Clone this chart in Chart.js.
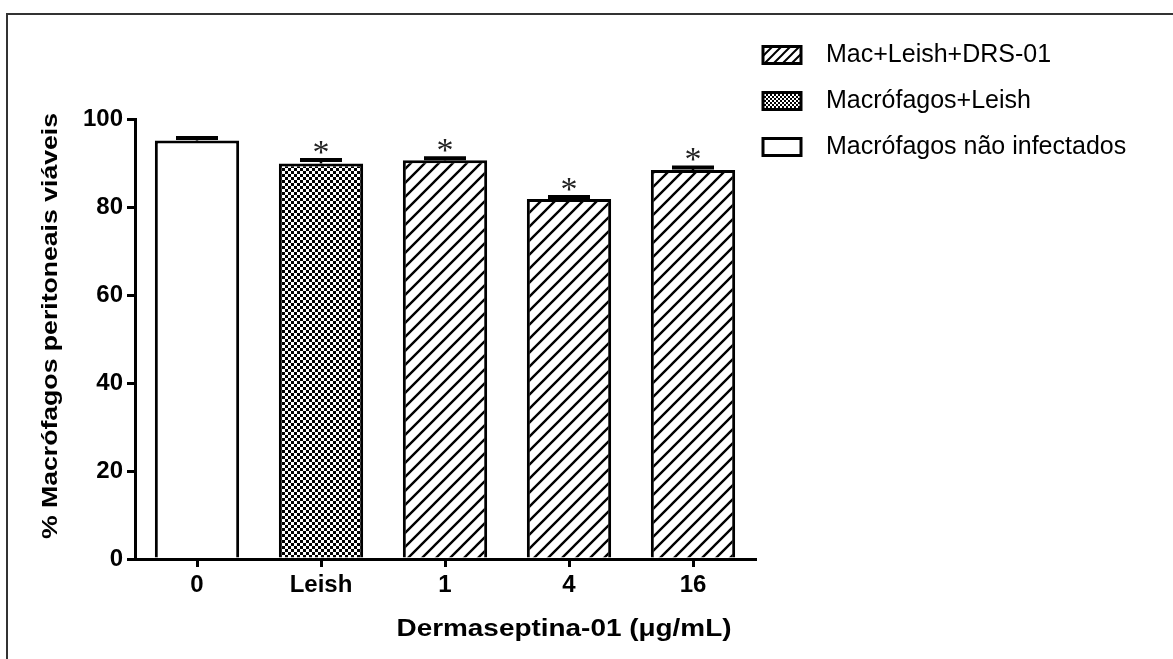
<!DOCTYPE html>
<html>
<head>
<meta charset="utf-8">
<script src="https://cdn.jsdelivr.net/npm/chart.js@4/dist/chart.umd.min.js"></script>
<style>
  html, body { margin: 0; padding: 0; background: #fff; }
  #wrap { width: 1173px; height: 659px; position: relative; }
</style>
</head>
<body>
<div id="wrap"><canvas id="chart"></canvas></div>
<script>
// Data
const categories = ['0', 'Leish', '1', '4', '16'];
const means = [95.1, 89.9, 90.6, 81.8, 88.4];
const sems = [0.6, 0.8, 0.5, 0.5, 0.6];
const groups = ['none', 'leish', 'drs', 'drs', 'drs'];
const significant = [false, true, true, true, true];
const legendGroups = ['drs', 'leish', 'none'];
const legendLabels = ['Mac+Leish+DRS-01', 'Macrófagos+Leish', 'Macrófagos não infectados'];
const xTitle = 'Dermaseptina-01 (\u03bcg/mL)';
const yTitle = '% Macrófagos peritoneais viáveis';

// Fill patterns
function hatchPattern(size, lw) {
    const c = document.createElement('canvas');
    c.width = size; c.height = size;
    const g = c.getContext('2d');
    g.fillStyle = '#fff';
    g.fillRect(0, 0, size, size);
    g.strokeStyle = '#000';
    g.lineWidth = lw;
    g.beginPath();
    g.moveTo(-2, size + 2); g.lineTo(size + 2, -2);
    g.moveTo(-2, 2); g.lineTo(2, -2);
    g.moveTo(size - 2, size + 2); g.lineTo(size + 2, size - 2);
    g.stroke();
    return g.createPattern(c, 'repeat');
}
function checkerPattern(cell) {
    const c = document.createElement('canvas');
    c.width = cell * 2; c.height = cell * 2;
    const g = c.getContext('2d');
    g.fillStyle = '#fff';
    g.fillRect(0, 0, cell * 2, cell * 2);
    g.fillStyle = '#000';
    g.fillRect(0, 0, cell, cell);
    g.fillRect(cell, cell, cell, cell);
    return g.createPattern(c, 'repeat');
}
const fills = { none: '#fff', leish: checkerPattern(3), drs: hatchPattern(14, 2.4) };
const legendFills = { none: '#fff', leish: checkerPattern(2), drs: hatchPattern(9, 2) };

const FONT = '"Liberation Sans", Arial, sans-serif';

// Outer frame of the figure
const framePlugin = {
    id: 'frame',
    beforeDraw(chart) {
        const ctx = chart.ctx;
        ctx.save();
        ctx.strokeStyle = '#333';
        ctx.lineWidth = 2;
        ctx.beginPath();
        ctx.moveTo(7, chart.height);
        ctx.lineTo(7, 14);
        ctx.lineTo(chart.width, 14);
        ctx.stroke();
        ctx.restore();
    }
};

// Error bars (upper only) and significance stars
const errorPlugin = {
    id: 'errors',
    afterDatasetsDraw(chart) {
        const ctx = chart.ctx;
        const y = chart.scales.y;
        const meta = chart.getDatasetMeta(0);
        ctx.save();
        ctx.strokeStyle = '#000';
        ctx.fillStyle = '#222';
        meta.data.forEach((bar, i) => {
            const top = y.getPixelForValue(means[i] + sems[i]);
            ctx.lineWidth = 2.5;
            ctx.beginPath();
            ctx.moveTo(bar.x, bar.y);
            ctx.lineTo(bar.x, top);
            ctx.stroke();
            ctx.lineWidth = 4;
            ctx.beginPath();
            ctx.moveTo(bar.x - 21, top);
            ctx.lineTo(bar.x + 21, top);
            ctx.stroke();
            if (significant[i]) {
                ctx.font = '34px "Liberation Serif", "Times New Roman", serif';
                ctx.textAlign = 'center';
                ctx.textBaseline = 'alphabetic';
                ctx.fillText('*', bar.x, top + 3);
            }
        });
        ctx.restore();
    }
};

// Axis titles (the original is stretched horizontally) and legend
const textPlugin = {
    id: 'texts',
    afterDraw(chart) {
        const ctx = chart.ctx;
        ctx.save();
        ctx.fillStyle = '#000';
        ctx.textAlign = 'center';
        ctx.textBaseline = 'middle';

        ctx.font = 'bold 24px ' + FONT;
        let w = ctx.measureText(xTitle).width;
        ctx.save();
        ctx.translate(564, 629);
        ctx.scale(335 / w, 1);
        ctx.fillText(xTitle, 0, 0);
        ctx.restore();

        ctx.font = 'bold 22px ' + FONT;
        w = ctx.measureText(yTitle).width;
        ctx.save();
        ctx.translate(51, 326);
        ctx.rotate(-Math.PI / 2);
        ctx.scale(426 / w, 1);
        ctx.fillText(yTitle, 0, 0);
        ctx.restore();

        // legend
        const rows = [55, 101, 147];
        ctx.textAlign = 'left';
        ctx.font = '25px ' + FONT;
        legendGroups.forEach((g, i) => {
            const cy = rows[i];
            ctx.fillStyle = legendFills[g];
            ctx.fillRect(763, cy - 8.5, 38, 17);
            ctx.strokeStyle = '#000';
            ctx.lineWidth = 3;
            ctx.strokeRect(763, cy - 8.5, 38, 17);
            ctx.fillStyle = '#000';
            ctx.fillText(legendLabels[i], 826, cy);
        });
        ctx.restore();
    }
};

new Chart(document.getElementById('chart'), {
    type: 'bar',
    data: {
        labels: categories,
        datasets: [{
            data: means,
            backgroundColor: groups.map(g => fills[g]),
            borderColor: '#000',
            borderWidth: 3,
            borderSkipped: 'start',
            barPercentage: 0.68,
            categoryPercentage: 1
        }]
    },
    options: {
        responsive: true,
        maintainAspectRatio: false,
        animation: false,
        layout: { padding: { left: 0, top: 119, right: 418, bottom: 0 } },
        plugins: { legend: { display: false }, tooltip: { enabled: false } },
        scales: {
            x: {
                afterFit: s => { s.height = 100; },
                grid: { offset: false, drawOnChartArea: false, drawTicks: true, tickLength: 8, color: '#000', lineWidth: 3 },
                border: { display: true, color: '#000', width: 3 },
                ticks: { color: '#000', padding: 4, font: { family: FONT, size: 24, weight: 'bold' } }
            },
            y: {
                min: 0,
                max: 100,
                afterFit: s => { s.width = 135; },
                grid: { drawOnChartArea: false, drawTicks: true, tickLength: 8, color: '#000', lineWidth: 3 },
                border: { display: true, color: '#000', width: 3 },
                ticks: { stepSize: 20, color: '#000', padding: 4, font: { family: FONT, size: 24, weight: 'bold' } }
            }
        }
    },
    plugins: [framePlugin, errorPlugin, textPlugin]
});
</script>
</body>
</html>
